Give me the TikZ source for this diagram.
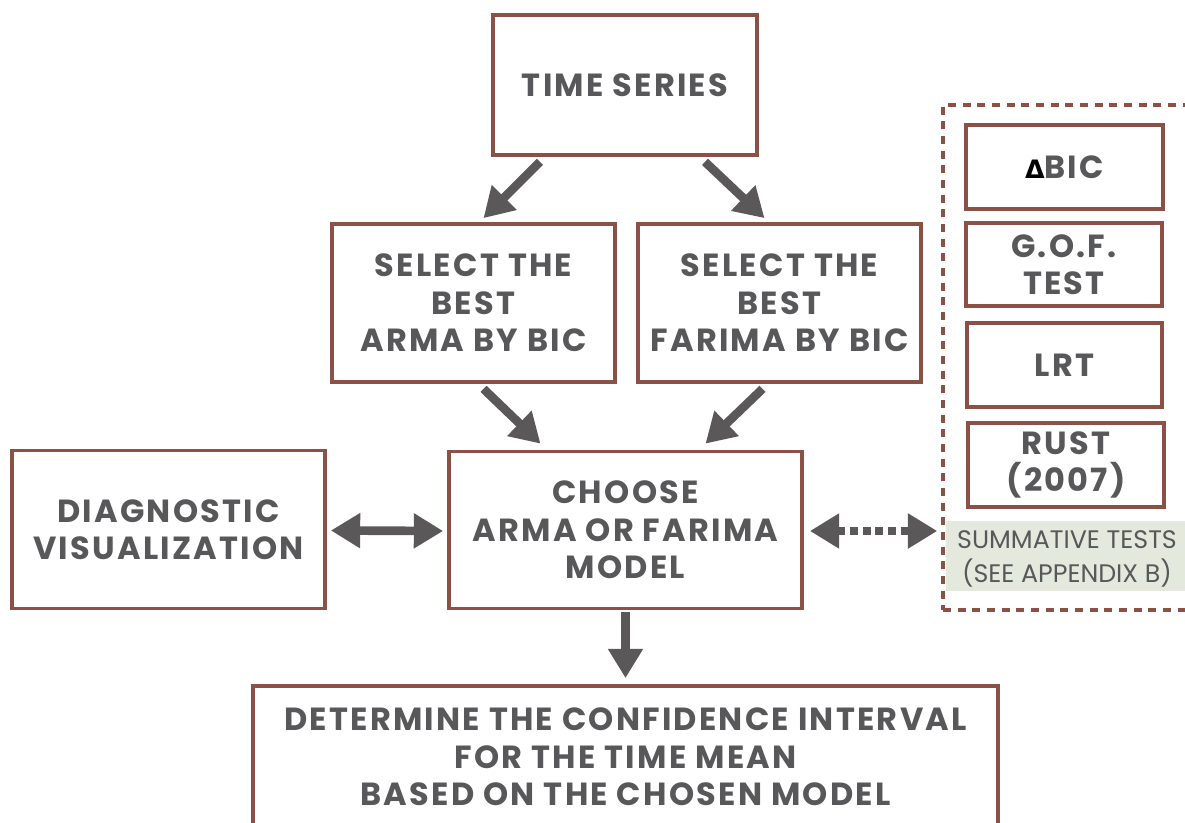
\documentclass[tikz,border=0pt]{standalone}
\usepackage{fontspec}
\setmainfont{Poppins}[UprightFont=* Bold, BoldFont=* ExtraBold, LetterSpace=7]
\newfontfamily\lightfont{Poppins}[UprightFont=*]
\newfontfamily\symfont{DejaVu Sans}[UprightFont=* Bold]
\usetikzlibrary{arrows.meta,calc}
\definecolor{brd}{HTML}{8B5046}
\definecolor{txt}{HTML}{58585A}
\definecolor{agray}{HTML}{5A5858}
\definecolor{greenbg}{HTML}{E3EADD}
\newcommand{\lowr}[1]{\raisebox{-2.5pt}{#1}}
\tikzset{
  box/.style={draw=brd, line width=2.8pt, fill=white, rectangle, inner sep=0pt, align=center,
    text=txt, font=\fontsize{24}{28}\selectfont},
  tbox/.style={box},
  arr/.style={draw=agray, line width=6.5pt, -{Triangle[length=22pt,width=25pt]}},
  darr/.style={draw=agray, line width=6.5pt, {Triangle[length=22pt,width=25pt]}-{Triangle[length=22pt,width=25pt]}},
  dotarr/.style={draw=agray, line width=6pt, dash pattern=on 6pt off 3.5pt, {Triangle[length=22pt,width=25pt]}-{Triangle[length=22pt,width=25pt]}},
}
\begin{document}
\begin{tikzpicture}[x=0.75pt,y=-0.75pt]
\useasboundingbox (0,0) rectangle (1185,823);
% dashed container
\node[draw=brd, line width=2.6pt, dash pattern=on 6pt off 5pt, minimum width=195pt, minimum height=378.75pt, inner sep=0pt] (cont) at (1073,357.5) {};
% main boxes
\node[box, minimum width=198pt, minimum height=105pt] (ts) at (625,85) {\lowr{TIME SERIES}};
\node[box, minimum width=212.25pt, minimum height=118.5pt] (arma) at (473.5,303) {SELECT THE\\BEST\\ARMA BY BIC};
\node[box, minimum width=212.25pt, minimum height=118.5pt] (farima) at (779.5,303) {SELECT THE\\BEST\\FARIMA BY BIC};
\node[box, minimum width=264.75pt, minimum height=117.75pt] (choose) at (625.5,530) {CHOOSE\\ARMA OR FARIMA\\MODEL};
\node[box, minimum width=234.75pt, minimum height=118.5pt] (diag) at (168.5,529.5) {DIAGNOSTIC\\VISUALIZATION};
\node[box, minimum width=558.75pt, minimum height=106.5pt] (det) at (625.5,757) {DETERMINE THE CONFIDENCE INTERVAL\\FOR THE TIME MEAN\\BASED ON THE CHOSEN MODEL};
% right column
\node[tbox, minimum width=147.75pt, minimum height=63pt] (dbic) at (1064.5,167) {\lowr{\textcolor{black}{\symfont\fontsize{19}{19}\selectfont Δ}BIC}};
\node[tbox, minimum width=147pt, minimum height=62.25pt] (gof) at (1064,264.5) {\lowr{G.O.F.}\\\lowr{TEST}};
\node[tbox, minimum width=146.25pt, minimum height=63pt] (lrt) at (1064.5,365) {\lowr{LRT}};
\node[tbox, minimum width=147pt, minimum height=63pt] (rust) at (1066,465) {\lowr{RUST}\\\lowr{(2007)}};
\fill[greenbg] (946,521) rectangle (1185,591);
\node[inner sep=0pt, align=center, text=txt,
  font=\lightfont\fontsize{19}{25.5}\selectfont] (summ) at (1067,559) {SUMMATIVE TESTS\\(SEE APPENDIX B)};
% arrows
\draw[arr] ($(ts.south)+(-85,5)$) -- ($(arma.north)+(10,-4)$);
\draw[arr] ($(ts.south)+(80,5)$) -- ($(farima.north)+(-15,-4)$);
\draw[arr] ($(arma.south)+(10,5)$) -- ($(choose.north)+(-85,-6)$);
\draw[arr] ($(farima.south)+(-17,5)$) -- ($(choose.north)+(80,-6)$);
\draw[arr] ($(choose.south)+(0,2)$) -- ($(det.north)+(0,-6)$);
\draw[darr] ($(diag.east)+(4,1)$) -- ($(choose.west)+(-4,1)$);
\draw[dotarr] ($(choose.east)+(6,1)$) -- ($(cont.west)+(-4,173.5)$);
\end{tikzpicture}
\end{document}
